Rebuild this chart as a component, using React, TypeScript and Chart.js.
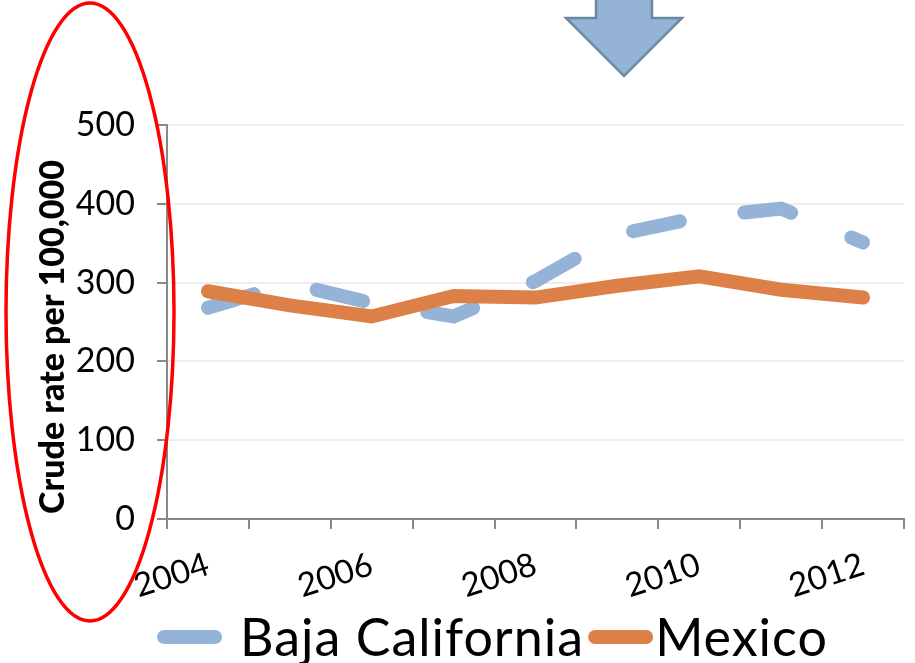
import React, { useEffect, useRef } from "react";
import { Chart, registerables } from "chart.js";

Chart.register(...registerables);

const years = ["2004", "2005", "2006", "2007", "2008", "2009", "2010", "2011", "2012"];
const bajaCalifornia = [268, 299, 274, 257, 302, 361, 383, 394, 351];
const mexico = [289, 271, 257, 283, 281, 296, 308, 291, 281];
const yTickMin = 0;
const yTickMax = 500;
const yTickStep = 100;
const yAxisTitle = "Crude rate per 100,000";

const BLUE = "#95B3D7";
const ORANGE = "#DD8047";
const FONT = "Lato, 'Open Sans', sans-serif";

const decorPlugin = {
  id: "decor",
  afterDraw(chart: any) {
    const ctx = chart.ctx as CanvasRenderingContext2D;
    const area = chart.chartArea;
    // y-axis title
    ctx.save();
    ctx.translate(64, (area.top + area.bottom) / 2 + 15);
    ctx.rotate(-Math.PI / 2);
    ctx.font = `900 34px ${FONT}`;
    ctx.fillStyle = "#000";
    ctx.textAlign = "center";
    ctx.textBaseline = "alphabetic";
    ctx.fillText(yAxisTitle, 0, 0);
    ctx.restore();

    // legend
    ctx.save();
    ctx.setLineDash([]);
    ctx.font = `52px ${FONT}`;
    (ctx as any).letterSpacing = "1px";
    ctx.textBaseline = "alphabetic";
    ctx.textAlign = "left";
    let x = 157;
    const cy = 637;
    const gaps = [18, 2];
    chart.data.datasets.forEach((ds: any, i: number) => {
      ctx.strokeStyle = ds.borderColor;
      ctx.lineWidth = 14;
      ctx.lineCap = "round";
      ctx.beginPath();
      ctx.moveTo(x + 7, cy);
      ctx.lineTo(x + 58, cy);
      ctx.stroke();
      x += 65 + gaps[i % 2];
      ctx.fillStyle = "#000";
      ctx.fillText(ds.label, x, 656);
      x += ctx.measureText(ds.label).width + 4;
    });
    ctx.restore();

    // arrow
    ctx.save();
    ctx.setLineDash([]);
    ctx.beginPath();
    ctx.moveTo(596, -2);
    ctx.lineTo(652, -2);
    ctx.lineTo(652, 18);
    ctx.lineTo(682, 18);
    ctx.lineTo(624, 76);
    ctx.lineTo(566, 18);
    ctx.lineTo(596, 18);
    ctx.closePath();
    ctx.fillStyle = "#95B3D7";
    ctx.fill();
    ctx.lineWidth = 2.5;
    ctx.strokeStyle = "#6B89A1";
    ctx.stroke();
    ctx.restore();

    // red ellipse
    ctx.save();
    ctx.setLineDash([]);
    ctx.beginPath();
    ctx.ellipse(90, 312, 84, 309, 0, 0, Math.PI * 2);
    ctx.lineWidth = 3.5;
    ctx.strokeStyle = "#FF0000";
    ctx.stroke();
    ctx.restore();
  },
};

export default function App() {
  const canvasRef = useRef<HTMLCanvasElement | null>(null);

  useEffect(() => {
    if (!canvasRef.current) return;
    const chart = new Chart(canvasRef.current, {
      type: "line",
      data: {
        labels: years,
        datasets: [
          {
            label: "Baja California",
            data: bajaCalifornia,
            borderColor: BLUE,
            backgroundColor: BLUE,
            borderWidth: 14,
            borderDash: [48, 65],
            borderCapStyle: "round",
            pointRadius: 0,
            tension: 0,
            order: 1,
          },
          {
            label: "Mexico",
            data: mexico,
            borderColor: ORANGE,
            backgroundColor: ORANGE,
            borderWidth: 14,
            borderCapStyle: "round",
            pointRadius: 0,
            tension: 0,
            order: 0,
          },
        ],
      },
      options: {
        animation: false,
        responsive: true,
        maintainAspectRatio: false,
        layout: { padding: { top: 125, right: 11, left: 0, bottom: 0 } },
        plugins: {
          legend: { display: false },
          tooltip: { enabled: false },
        },
        scales: {
          x: {
            offset: true,
            grid: {
              offset: true,
              drawOnChartArea: false,
              drawTicks: true,
              tickLength: 10,
              tickColor: "#888888",
              tickWidth: 2,
              lineWidth: 2,
            },
            border: { color: "#888888", width: 2 },
            ticks: {
              autoSkip: false,
              minRotation: 18,
              maxRotation: 18,
              padding: 16,
              color: "#000",
              font: { family: FONT, size: 33 },
              callback: (_v: any, i: number) => (i % 2 === 0 ? years[i] : ""),
            },
            afterFit: (scale: any) => {
              scale.height = 144;
            },
          },
          y: {
            min: yTickMin,
            max: yTickMax,
            grid: {
              color: "#EEEEEE",
              lineWidth: 2,
              tickLength: 10,
              tickColor: "#888888",
              tickWidth: 2,
            },
            border: { color: "#888888", width: 2 },
            ticks: {
              stepSize: yTickStep,
              padding: 22,
              color: "#000",
              font: { family: FONT, size: 34 },
            },
            afterFit: (scale: any) => {
              scale.width = 167;
            },
          },
        },
      },
      plugins: [decorPlugin],
    });
    return () => chart.destroy();
  }, []);

  return (
    <div style={{ position: "fixed", left: 0, top: 0, width: 915, height: 663, background: "#fff" }}>
      <canvas ref={canvasRef} />
    </div>
  );
}
